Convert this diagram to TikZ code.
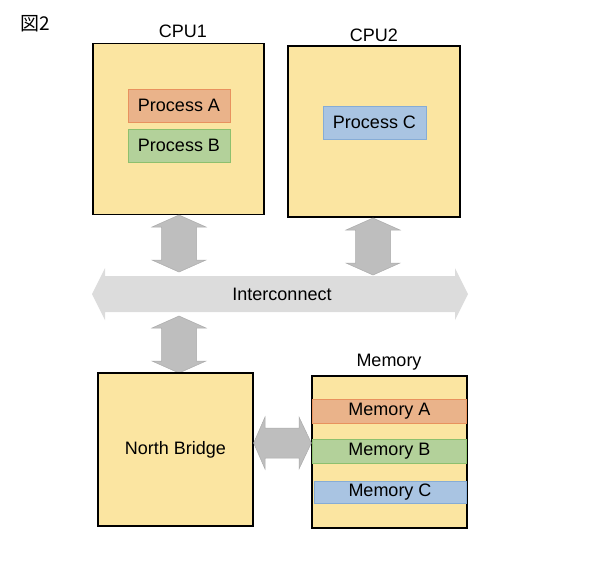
\documentclass[tikz,border=0pt]{standalone}
\usepackage{fontspec}
\setmainfont{Liberation Sans}
\newfontfamily\cjk{Noto Sans CJK JP}
\definecolor{boxfill}{HTML}{FBE5A1}
\definecolor{pafill}{HTML}{EAB38A}
\definecolor{padraw}{HTML}{E8925E}
\definecolor{pbfill}{HTML}{B3D19A}
\definecolor{pbdraw}{HTML}{8DC06E}
\definecolor{pcfill}{HTML}{A9C4E2}
\definecolor{pcdraw}{HTML}{86ACD6}
\definecolor{arrfill}{HTML}{BEBEBE}
\definecolor{arrdraw}{HTML}{ABABAB}
\definecolor{busfill}{HTML}{DCDCDC}
\tikzset{
  big/.style={draw=black, line width=1.3pt, fill=boxfill},
  proc/.style={draw=#1, line width=0.8pt, inner sep=0pt, font=\fontsize{18}{21}\selectfont},
  lbl/.style={font=\fontsize{18}{21}\selectfont, inner sep=0pt},
  blk/.style={fill=arrfill, draw=arrdraw, line width=0.5pt},
}
% vertical double block arrow: x, ytop, ybottom
\newcommand\myVarrow[3]{%
  \fill[blk] (#1,#2) -- (#1+27,#2+12) -- (#1+17.5,#2+12) -- (#1+17.5,#3-12) -- (#1+27,#3-12) -- (#1,#3)
   -- (#1-27,#3-12) -- (#1-17.5,#3-12) -- (#1-17.5,#2+12) -- (#1-27,#2+12) -- cycle;}
\begin{document}
\begin{tikzpicture}[x=1pt,y=-1pt]
\useasboundingbox (0,0) rectangle (590,574);
\node[font=\cjk\fontsize{19}{22}\selectfont, inner sep=0pt] (fig) at (35,24) {図2};

% CPU1
\node[big, minimum width=171pt, minimum height=171pt, inner sep=0pt] (cpu1) at (178.5,129) {};
\node[lbl] (cpu1l) at (183,31) {CPU1};
\node[proc=padraw, fill=pafill, minimum width=102pt, minimum height=33pt] (pa) at (179,105.5) {Process A};
\node[proc=pbdraw, fill=pbfill, minimum width=102pt, minimum height=33pt] (pb) at (179,145.5) {Process B};

% CPU2
\node[big, minimum width=172pt, minimum height=171pt, inner sep=0pt] (cpu2) at (374,131.5) {};
\node[lbl] (cpu2l) at (374,35) {CPU2};
\node[proc=pcdraw, fill=pcfill, minimum width=103pt, minimum height=33pt] (pc) at (374.5,122.5) {Process C};

% Interconnect bus
\fill[busfill] (92,294) -- (105,268) -- (105,276) -- (455,276) -- (455,268) -- (468,294)
  -- (455,320) -- (455,312) -- (105,312) -- (105,320) -- cycle;
\node[lbl] (bus) at (282,294) {Interconnect};

% vertical arrows
\myVarrow{179}{215}{272}
\myVarrow{373}{218}{275}
\myVarrow{179}{316}{373}

% North Bridge
\node[big, minimum width=155pt, minimum height=153pt, inner sep=0pt] (nb) at (175.5,449.5) {};
\node[lbl] (nbl) at (175.5,450) {North Bridge};

% Memory
\node[big, minimum width=155pt, minimum height=152pt, inner sep=0pt] (mem) at (389.5,452) {};
\node[lbl] (meml) at (389,362) {Memory};
\node[proc=padraw, fill=pafill, minimum width=154pt, minimum height=24pt] (ma) at (389.5,411) {Memory A};
\node[proc=pbdraw, fill=pbfill, minimum width=154pt, minimum height=24pt] (mb) at (389.5,451) {Memory B};
\node[proc=pcdraw, fill=pcfill, minimum width=152pt, minimum height=22pt] (mc) at (390,492) {Memory C};
\draw[line width=1.3pt] (mem.north west) rectangle (mem.south east);

% horizontal arrow NB - Memory
\fill[blk] (nb.east |- 0,443) -- (265,417) -- (265,428) -- (299,428) -- (299,417) -- (mem.west |- 0,443)
  -- (299,469) -- (299,458) -- (265,458) -- (265,469) -- cycle;
\end{tikzpicture}
\end{document}
